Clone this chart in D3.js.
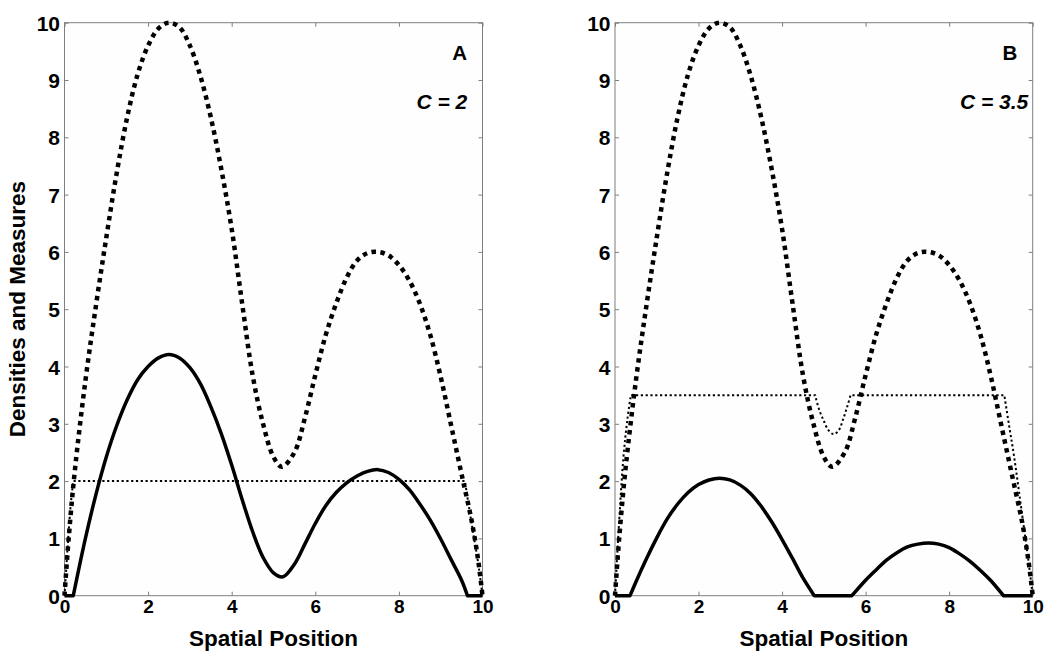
<!DOCTYPE html>
<html>
<head>
<meta charset="utf-8">
<script src="https://cdn.jsdelivr.net/npm/d3@7"></script>
<style>
	body { margin: 0; background: #fff; }
	svg { display: block; }
	text { font-family: "Liberation Sans", Arial, sans-serif; font-weight: bold; fill: #000; }
</style>
</head>
<body>
<div id="chart-area"></div>
<script>
// Tick labels
const xTicks = [0, 2, 4, 6, 8, 10];
const yTicks = [0, 1, 2, 3, 4, 5, 6, 7, 8, 9, 10];
const panelLabels = ["A", "B"];
const cLabels = ["C = 2", "C = 3.5"];

// Density (thick dotted), same in both panels
const densityX = [0, 0.1, 0.25, 0.5, 0.75, 1, 1.25, 1.5, 1.75, 2, 2.25, 2.5, 2.75, 3, 3.25, 3.5, 3.75, 4, 4.25, 4.5, 4.75, 5, 5.2, 5.5, 5.75, 6, 6.25, 6.5, 6.75, 7, 7.25, 7.5, 7.75, 8, 8.25, 8.5, 8.75, 9, 9.25, 9.5, 9.75, 9.9, 10];
const densityY = [0, 1.0, 2.2, 3.75, 5.05, 6.25, 7.38, 8.35, 9.1, 9.6, 9.9, 10, 9.92, 9.6, 9.07, 8.35, 7.45, 6.4, 5.1, 3.85, 3.0, 2.42, 2.25, 2.5, 3.1, 3.85, 4.55, 5.1, 5.55, 5.85, 5.98, 6.0, 5.94, 5.77, 5.5, 5.1, 4.55, 3.82, 2.97, 2.12, 1.27, 0.6, 0];

// Panel A (C = 2)
const solidAX = [0, 0.21, 0.5, 0.75, 1, 1.25, 1.5, 1.75, 2, 2.25, 2.5, 2.75, 3, 3.25, 3.5, 3.75, 4, 4.25, 4.5, 4.75, 5, 5.23, 5.5, 5.75, 6, 6.25, 6.5, 6.75, 7, 7.25, 7.5, 7.75, 8, 8.25, 8.5, 8.75, 9, 9.25, 9.5, 9.64, 10];
const solidAY = [0, 0, 1.0, 1.76, 2.42, 2.97, 3.42, 3.77, 4.0, 4.15, 4.21, 4.15, 3.98, 3.7, 3.3, 2.83, 2.28, 1.68, 1.12, 0.67, 0.4, 0.33, 0.55, 0.9, 1.26, 1.57, 1.8, 1.97, 2.09, 2.17, 2.2, 2.15, 2.03, 1.85, 1.6, 1.32, 0.99, 0.63, 0.27, 0, 0];
const dotAX = [0, 0.08, 0.15, 0.21, 9.58, 9.7, 9.8, 9.9, 10];
const dotAY = [0, 0.9, 1.6, 2, 2, 1.44, 1.0, 0.55, 0];

// Panel B (C = 3.5)
const solidBX = [0, 0.36, 0.5, 0.75, 1, 1.25, 1.5, 1.75, 2, 2.25, 2.5, 2.75, 3, 3.25, 3.5, 3.75, 4, 4.25, 4.5, 4.77, 5.67, 6, 6.25, 6.5, 6.75, 7, 7.25, 7.5, 7.75, 8, 8.25, 8.5, 8.75, 9, 9.3, 10];
const solidBY = [0, 0, 0.24, 0.64, 1.01, 1.34, 1.6, 1.8, 1.94, 2.02, 2.05, 2.02, 1.93, 1.78, 1.56, 1.29, 0.98, 0.65, 0.31, 0, 0, 0.27, 0.45, 0.62, 0.75, 0.85, 0.9, 0.92, 0.9, 0.84, 0.73, 0.6, 0.44, 0.26, 0, 0];
const dotBX = [0, 0.1, 0.2, 0.3, 0.38, 4.79, 4.9, 5.0, 5.1, 5.23, 5.35, 5.47, 5.56, 5.64, 9.32, 9.45, 9.55, 9.75, 9.9, 10];
const dotBY = [0, 1.3, 2.4, 3.1, 3.5, 3.5, 3.22, 3.05, 2.9, 2.82, 2.88, 3.1, 3.3, 3.5, 3.5, 2.9, 2.45, 1.4, 0.6, 0];

let width = 1050,
	height = 659;

let svg = d3.select("#chart-area").append("svg")
	.attr("width", width)
	.attr("height", height);

let panels = [
	{left: 64.5, right: 482.5, solidX: solidAX, solidY: solidAY, dotX: dotAX, dotY: dotAY},
	{left: 615, right: 1032.7, solidX: solidBX, solidY: solidBY, dotX: dotBX, dotY: dotBY}
];
let plotTop = 22.7, plotBottom = 595.7;

// split series so flat runs stay straight and the rest is smooth
function buildPath(xs, ys, xScale, yScale) {
	let pts = xs.map((x, i) => [xScale(x), yScale(ys[i])]);
	let pieces = [], cur = [pts[0]], curFlat = null;
	for (let i = 0; i < pts.length - 1; i++) {
		let flat = ys[i] === ys[i + 1];
		if (curFlat !== null && flat !== curFlat) {
			pieces.push({pts: cur, flat: curFlat});
			cur = [pts[i]];
		}
		cur.push(pts[i + 1]);
		curFlat = flat;
	}
	pieces.push({pts: cur, flat: curFlat});
	let curved = d3.line().curve(d3.curveCatmullRom.alpha(0.5));
	let straight = d3.line();
	return pieces.map((p, i) => {
		let s = (p.flat ? straight : curved)(p.pts);
		return i ? s.replace(/^M/, "L") : s;
	}).join("");
}

panels.forEach((p, k) => {
	let x = d3.scaleLinear().domain([0, 10]).range([p.left, p.right]);
	let y = d3.scaleLinear().domain([0, 10]).range([plotBottom, plotTop]);
	let g = svg.append("g");

	// box
	g.append("rect")
		.attr("x", p.left).attr("y", plotTop)
		.attr("width", p.right - p.left).attr("height", plotBottom - plotTop)
		.attr("fill", "#fefefe")
		.attr("stroke", "#7f7f7f")
		.attr("stroke-width", 1);

	// axes, ticks pointing inward
	let xAxis = g.append("g")
		.attr("transform", "translate(0," + plotBottom + ")")
		.call(d3.axisBottom(x).tickValues(xTicks).tickSizeInner(-4).tickSizeOuter(0).tickPadding(3.5));
	xAxis.selectAll("text").attr("font-size", 19);

	g.append("g")
		.attr("transform", "translate(0," + plotTop + ")")
		.call(d3.axisTop(x).tickValues(xTicks).tickSizeInner(-4).tickSizeOuter(0).tickFormat(""));

	let yAxis = g.append("g")
		.attr("transform", "translate(" + p.left + ",0)")
		.call(d3.axisLeft(y).tickValues(yTicks).tickSizeInner(-4).tickSizeOuter(0).tickPadding(4.5));
	yAxis.selectAll("text").attr("font-size", 21).attr("dy", "0.36em");

	g.append("g")
		.attr("transform", "translate(" + p.right + ",0)")
		.call(d3.axisRight(y).tickValues(yTicks).tickSizeInner(-4).tickSizeOuter(0).tickFormat(""));

	g.selectAll(".domain").remove();
	g.selectAll(".tick line").attr("stroke", "#7f7f7f");
	g.selectAll(".tick text").attr("font-family", "Liberation Sans, Arial, sans-serif").attr("font-weight", "bold").attr("fill", "#000");

	// x-axis label
	g.append("text")
		.attr("x", (p.left + p.right) / 2)
		.attr("y", 645.5)
		.attr("text-anchor", "middle")
		.attr("font-size", 22.5)
		.text("Spatial Position");

	// density (thick dotted)
	g.append("path")
		.attr("d", buildPath(densityX, densityY, x, y))
		.attr("fill", "none")
		.attr("stroke", "#000")
		.attr("stroke-width", 4.5)
		.attr("stroke-dasharray", "4.5,4.5");

	// cap measure (thin dotted)
	g.append("path")
		.attr("d", buildPath(p.dotX, p.dotY, x, y))
		.attr("fill", "none")
		.attr("stroke", "#000")
		.attr("stroke-width", 2)
		.attr("stroke-dasharray", "2.2,2.6");

	// solid curve
	g.append("path")
		.attr("d", buildPath(p.solidX, p.solidY, x, y))
		.attr("fill", "none")
		.attr("stroke", "#000")
		.attr("stroke-width", 3.5)
		.attr("stroke-linejoin", "round");

	// panel letter and C value
	g.append("text")
		.attr("x", p.right - 15.5)
		.attr("y", 59.5)
		.attr("text-anchor", "end")
		.attr("font-size", 20.5)
		.text(panelLabels[k]);

	g.append("text")
		.attr("x", k === 0 ? 467.3 : 1028.3)
		.attr("y", 108.5)
		.attr("text-anchor", "end")
		.attr("font-size", 21)
		.attr("font-style", "italic")
		.text(cLabels[k]);
});

// y-axis label
svg.append("text")
	.attr("transform", "translate(25," + (plotTop + plotBottom) / 2 + ") rotate(-90)")
	.attr("text-anchor", "middle")
	.attr("font-size", 22.5)
	.text("Densities and Measures");
</script>
</body>
</html>
